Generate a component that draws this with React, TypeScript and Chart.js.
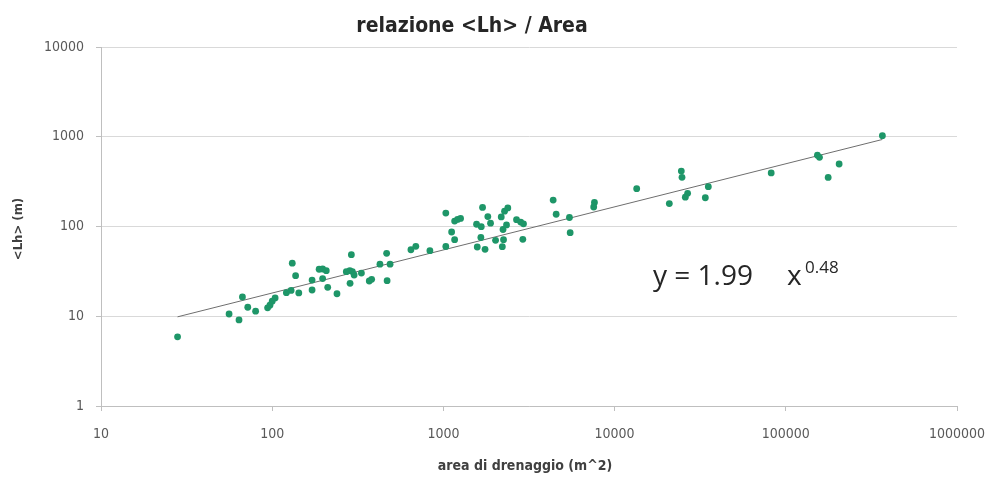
import React, { useEffect, useRef } from "react";
import { Chart, registerables } from "chart.js";

Chart.register(...registerables);

const WIDTH = 989;
const HEIGHT = 484;

// Text
const chartTitle = "relazione <Lh> / Area";
const xAxisTitle = "area di drenaggio (m^2)";
const yAxisTitle = "<Lh> (m)";

// Tick labels (decades)
const xTickValues = [10, 100, 1000, 10000, 100000, 1000000];
const yTickValues = [1, 10, 100, 1000, 10000];

// Drainage area (m^2) of each sample
const areaValues = [
  28, 56, 64, 67, 72, 80, 94, 97, 100, 104,
  121, 129, 131, 137, 143, 171, 171, 188, 197, 207,
  197, 211, 239, 271, 284, 294, 290, 285, 301, 332,
  369, 381, 426, 466, 488, 469, 646, 690, 834, 1033,
  1033, 1117, 1163, 1163, 1210, 1260, 1693, 1562, 1664, 1818,
  1885, 1655, 1577, 1751, 2017, 2177, 2276, 2378, 2230, 2337,
  2245, 2209, 2674, 2829, 2937, 2910, 4377, 4557, 5449, 5501,
  7624, 7551, 13460, 20880, 24530, 24760, 26700, 25890, 33880, 35270,
  82170, 153000, 157300, 176800, 204900, 366600,
];

// Mean hillslope length <Lh> (m) of each sample
const lhValues = [
  5.9, 10.6, 9.1, 16.4, 12.6, 11.4, 12.4, 13.3, 14.7, 16.0,
  18.3, 19.4, 39.0, 28.3, 18.2, 25.3, 19.6, 33.4, 33.6, 32.2,
  26.3, 21.0, 17.8, 31.4, 32.3, 31.5, 48.5, 23.3, 28.8, 30.3,
  24.7, 25.8, 38.0, 50.3, 38.0, 24.9, 55.1, 60.2, 53.8, 141,
  59.9, 86.8, 71.3, 115, 120, 123, 163, 106, 99.5, 129,
  109, 75.4, 59.1, 55.7, 70.2, 128, 148, 161, 92.6, 104,
  71.3, 59.6, 119, 112, 107, 72.0, 197, 137, 126, 85.3,
  185, 165, 264, 180, 415, 353, 234, 212, 209, 278,
  395, 623, 590, 352, 497, 1027,
];

// Power-law trend: y = a * x^b
const trendCoef = 1.99;
const trendExp = 0.48;
const trendRange = [28, 366600];

const pointColor = "#1e9668";
const tickColor = "#595959";
const fontFamily = "'DejaVu Sans Condensed', 'Liberation Sans Narrow', sans-serif";

const textPlugin = {
  id: "chartTexts",
  afterDraw(chart: any) {
    const { ctx, chartArea } = chart;
    ctx.save();

    // Chart title
    ctx.fillStyle = "#262626";
    ctx.textAlign = "center";
    ctx.textBaseline = "middle";
    ctx.font = `bold 21px ${fontFamily}`;
    ctx.fillText(chartTitle, 472, 27);

    // Axis titles
    ctx.fillStyle = "#404040";
    ctx.font = `bold 14px ${fontFamily}`;
    ctx.fillText(xAxisTitle, 525, 466);
    ctx.font = `bold 13px ${fontFamily}`;
    ctx.save();
    ctx.translate(19, 229);
    ctx.rotate(-Math.PI / 2);
    ctx.fillText(yAxisTitle, 0, 0);
    ctx.restore();

    // Trend equation
    ctx.fillStyle = "#262626";
    ctx.textAlign = "left";
    ctx.textBaseline = "alphabetic";
    const ex = chartArea.left + 552;
    const ey = chartArea.top + 238;
    ctx.font = "28px 'Open Sans', sans-serif";
    ctx.fillText(`y = ${trendCoef.toFixed(2)}`, ex, ey);
    ctx.fillText("x", ex + 134, ey);
    ctx.font = "17px 'Open Sans', sans-serif";
    ctx.fillText(trendExp.toFixed(2), ex + 152, ey - 12);

    ctx.restore();
  },
};

export default function App() {
  const canvasRef = useRef<HTMLCanvasElement | null>(null);

  useEffect(() => {
    const canvas = canvasRef.current;
    if (!canvas) return;

    const points = areaValues.map((x, i) => ({ x, y: lhValues[i] }));
    const trend = trendRange.map((x) => ({ x, y: trendCoef * Math.pow(x, trendExp) }));

    const chart = new Chart(canvas, {
      type: "scatter",
      data: {
        datasets: [
          {
            type: "line",
            label: "trend",
            data: trend,
            borderColor: "#6e6e6e",
            borderWidth: 1,
            pointRadius: 0,
            showLine: true,
            fill: false,
            order: 2,
          },
          {
            label: "<Lh>",
            data: points,
            backgroundColor: pointColor,
            borderColor: pointColor,
            borderWidth: 0,
            pointRadius: 3.4,
            order: 1,
          },
        ],
      },
      options: {
        responsive: false,
        animation: false,
        layout: { padding: { left: 0, right: 32, top: 47, bottom: 0 } },
        plugins: {
          legend: { display: false },
          tooltip: { enabled: false },
          title: { display: false },
        },
        scales: {
          x: {
            type: "logarithmic",
            min: 10,
            max: 1000000,
            afterBuildTicks: (scale: any) => {
              scale.ticks = xTickValues.map((value) => ({ value }));
            },
            afterFit: (scale: any) => {
              scale.height = HEIGHT - 406;
              scale.paddingLeft = 0;
              scale.paddingRight = 0;
            },
            ticks: {
              autoSkip: false,
              maxRotation: 0,
              padding: 15,
              color: tickColor,
              font: { family: fontFamily, size: 14 },
              callback: (value: any) => String(value),
            },
            grid: {
              drawOnChartArea: false,
              drawTicks: true,
              tickLength: 5,
              color: "#bfbfbf",
            },
            border: { display: true, color: "#bfbfbf", width: 1 },
          },
          y: {
            type: "logarithmic",
            min: 1,
            max: 10000,
            afterBuildTicks: (scale: any) => {
              scale.ticks = yTickValues.map((value) => ({ value }));
            },
            afterFit: (scale: any) => {
              scale.width = 101;
              scale.paddingTop = 0;
              scale.paddingBottom = 0;
            },
            ticks: {
              autoSkip: false,
              padding: 12,
              color: tickColor,
              font: { family: fontFamily, size: 14 },
              callback: (value: any) => String(value),
            },
            grid: {
              color: "#d9d9d9",
              drawTicks: true,
              tickLength: 5,
              tickColor: "#bfbfbf",
            },
            border: { display: true, color: "#bfbfbf", width: 1 },
          },
        },
      },
      plugins: [textPlugin],
    });

    return () => chart.destroy();
  }, []);

  return (
    <div style={{ position: "absolute", left: 0, top: 0, width: WIDTH, height: HEIGHT, background: "#ffffff" }}>
      <canvas ref={canvasRef} width={WIDTH} height={HEIGHT} style={{ display: "block" }} />
    </div>
  );
}
